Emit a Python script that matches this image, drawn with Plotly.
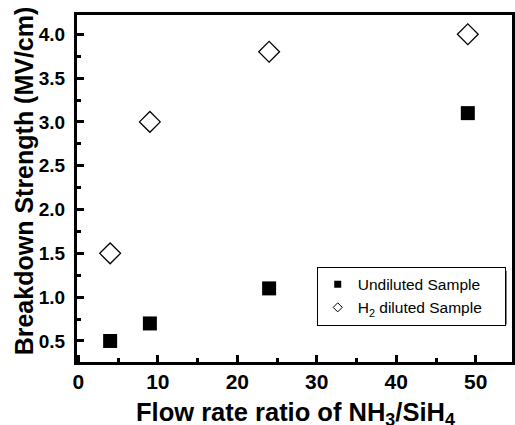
import plotly.graph_objects as go

ratio = [4, 9, 24, 49]
undiluted = [0.5, 0.7, 1.1, 3.1]
h2_diluted = [1.5, 3.0, 3.8, 4.0]
x_ticks = [0, 10, 20, 30, 40, 50]
y_ticks = [0.5, 1.0, 1.5, 2.0, 2.5, 3.0, 3.5, 4.0]
series_names = ["Undiluted Sample", "H<sub>2</sub> diluted Sample"]

FONT = "Arial, Liberation Sans, sans-serif"
L, R, T, B = 77, 2.5, 15, 62.5
W, H = 515, 425
pw, ph = W - L - R, H - T - B

def px_x(p):
    return (p - L) / pw

def px_y(p):
    return (H - B - p) / ph

PAD = "&nbsp;" * 4  # right padding inside the legend box

fig = go.Figure()
fig.add_trace(go.Scatter(x=ratio, y=undiluted, mode="markers", showlegend=False,
                         marker=dict(symbol="square", size=14, color="black", line=dict(width=0))))
fig.add_trace(go.Scatter(x=ratio, y=h2_diluted, mode="markers", showlegend=False,
                         marker=dict(symbol="diamond-open", size=16, color="black", line=dict(width=1.3, color="black"))))
# legend entries (small symbols as in the reference)
fig.add_trace(go.Scatter(x=[None], y=[None], mode="markers", name=series_names[0] + PAD,
                         marker=dict(symbol="square", size=7, color="black")))
fig.add_trace(go.Scatter(x=[None], y=[None], mode="markers", name=series_names[1] + PAD,
                         marker=dict(symbol="diamond-open", size=7, color="black", line=dict(width=1))))

axis_common = dict(showgrid=False, zeroline=False, showline=True, linecolor="black", linewidth=3,
                   mirror=True, ticks="inside", tickcolor="black", tickwidth=2.5, ticklen=7,
                   automargin=False)

fig.update_xaxes(range=[-0.17, 54.56], tickvals=x_ticks, ticktext=[str(v) for v in x_ticks],
                 tickfont=dict(family=FONT, size=21, color="black", weight="bold"),
                 minor=dict(ticks="inside", ticklen=4, tickwidth=2.5, tickcolor="black", dtick=5, tick0=0),
                 ticklabelstandoff=-1, **axis_common)
fig.update_yaxes(range=[0.26, 4.22], tickvals=y_ticks, ticktext=[f"{v:.1f}" for v in y_ticks],
                 tickfont=dict(family=FONT, size=19, color="black", weight="bold"),
                 minor=dict(ticks="inside", ticklen=4, tickwidth=2.5, tickcolor="black", dtick=0.25, tick0=0.25),
                 ticklabelstandoff=5, **axis_common)

leg_left, leg_top = 317, 267
leg_right, leg_bottom = 502, 321
fig.update_layout(
    width=W, height=H,
    margin=dict(l=L, r=R, t=T, b=B, pad=0, autoexpand=False),
    plot_bgcolor="white", paper_bgcolor="white",
    showlegend=True,
    legend=dict(x=px_x(leg_left), y=px_y(leg_top), xanchor="left", yanchor="top",
                bgcolor="white", bordercolor="black", borderwidth=1,
                font=dict(family=FONT, size=15.5, color="black")),
    shapes=[dict(type="rect", xref="paper", yref="paper", layer="above",
                 x0=px_x(leg_left + 4), x1=px_x(leg_right + 5),
                 y0=px_y(leg_bottom + 4), y1=px_y(leg_top + 4),
                 fillcolor="black", line=dict(width=0))],
    annotations=[
        dict(text="Breakdown Strength (MV/cm)", textangle=-90, xref="paper", yref="paper",
             x=px_x(24), y=px_y(181.5), xanchor="center", yanchor="middle", showarrow=False,
             font=dict(family=FONT, size=25, color="black", weight="bold")),
        dict(text="Flow rate ratio of NH<sub>3</sub>/SiH<sub>4</sub>", xref="paper", yref="paper",
             x=px_x(296), y=px_y(397), xanchor="center", yanchor="top", showarrow=False,
             font=dict(family=FONT, size=25.5, color="black", weight="bold")),
    ],
)

fig.write_html("out.html", config={"displayModeBar": False},
               post_script="document.body.style.margin='0';document.body.style.overflow='hidden';")
